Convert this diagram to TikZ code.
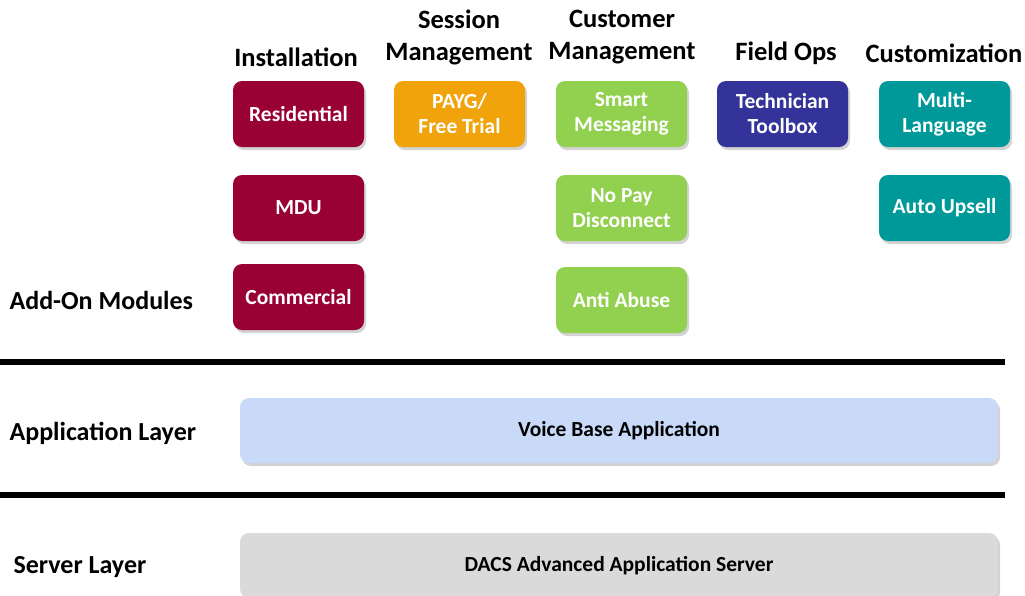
\documentclass[tikz,border=0pt]{standalone}
\usepackage{fontspec}
\setmainfont{Carlito}
\usetikzlibrary{shadows}

\definecolor{installred}{HTML}{990033}
\definecolor{sessionorange}{HTML}{F0A30A}
\definecolor{custgreen}{HTML}{92D050}
\definecolor{fieldblue}{HTML}{333399}
\definecolor{customteal}{HTML}{009999}
\definecolor{appblue}{HTML}{C9DAF8}
\definecolor{servergray}{HTML}{DADADA}

\tikzset{
  module/.style={rounded corners=9pt, minimum width=131pt, minimum height=66pt,
    text=white, align=center, font=\fontsize{21.5}{25}\selectfont\bfseries,
    drop shadow={opacity=0.35, shadow xshift=2pt, shadow yshift=-3pt}},
  layerbox/.style={rounded corners=9pt, minimum width=758pt, minimum height=65pt,
    font=\fontsize{21.5}{25}\selectfont\bfseries,
    drop shadow={opacity=0.35, shadow xshift=2pt, shadow yshift=-3pt}},
  heading/.style={align=center, font=\fontsize{26.5}{32}\selectfont\bfseries},
  sidelabel/.style={anchor=west, font=\fontsize{26}{30}\selectfont\bfseries},
  divider/.style={line width=6pt}
}

\begin{document}
\begin{tikzpicture}[x=1pt, y=-1pt]
  \useasboundingbox (0,0) rectangle (1025,595);

  % column headings
  \node[heading] (hinst) at (296,57) {Installation};
  \node[heading] (hsess) at (459,37) {Session\\Management};
  \node[heading] (hcust) at (622,37) {Customer\\Management};
  \node[heading] (hfield) at (786,53) {Field Ops};
  \node[heading] (hcustom) at (944,53) {Customization};

  % add-on modules
  \node[module, fill=installred] (resi) at (298.5,114) {Residential};
  \node[module, fill=installred] (mdu) at (298.5,208) {MDU};
  \node[module, fill=installred] (comm) at (298.5,297) {Commercial};
  \node[module, fill=sessionorange] (payg) at (459.5,114) {PAYG/\\Free Trial};
  \node[module, fill=custgreen] (smart) at (621.5,114) {Smart\\Messaging};
  \node[module, fill=custgreen] (nopay) at (621.5,208) {No Pay\\Disconnect};
  \node[module, fill=custgreen] (abuse) at (621.5,300) {Anti Abuse};
  \node[module, fill=fieldblue] (tech) at (782.5,114) {Technician\\Toolbox};
  \node[module, fill=customteal] (multi) at (944.5,114) {Multi-\\Language};
  \node[module, fill=customteal] (upsell) at (944.5,208) {Auto Upsell};

  % layers
  \node[sidelabel] (addon) at (6,300) {Add-On Modules};
  \coordinate (d1a) at (0,362);
  \coordinate (d1b) at (1005,362);
  \draw[divider] (d1a) -- (d1b);

  \node[sidelabel] (applabel) at (6,433) {Application Layer};
  \node[layerbox, fill=appblue] (app) at (619,430.5) {Voice Base Application};
  \coordinate (d2a) at (0,495);
  \coordinate (d2b) at (1005,495);
  \draw[divider] (d2a) -- (d2b);

  \node[sidelabel] (srvlabel) at (10,567) {Server Layer};
  \node[layerbox, fill=servergray] (srv) at (619,565.5) {DACS Advanced Application Server};
\end{tikzpicture}
\end{document}
